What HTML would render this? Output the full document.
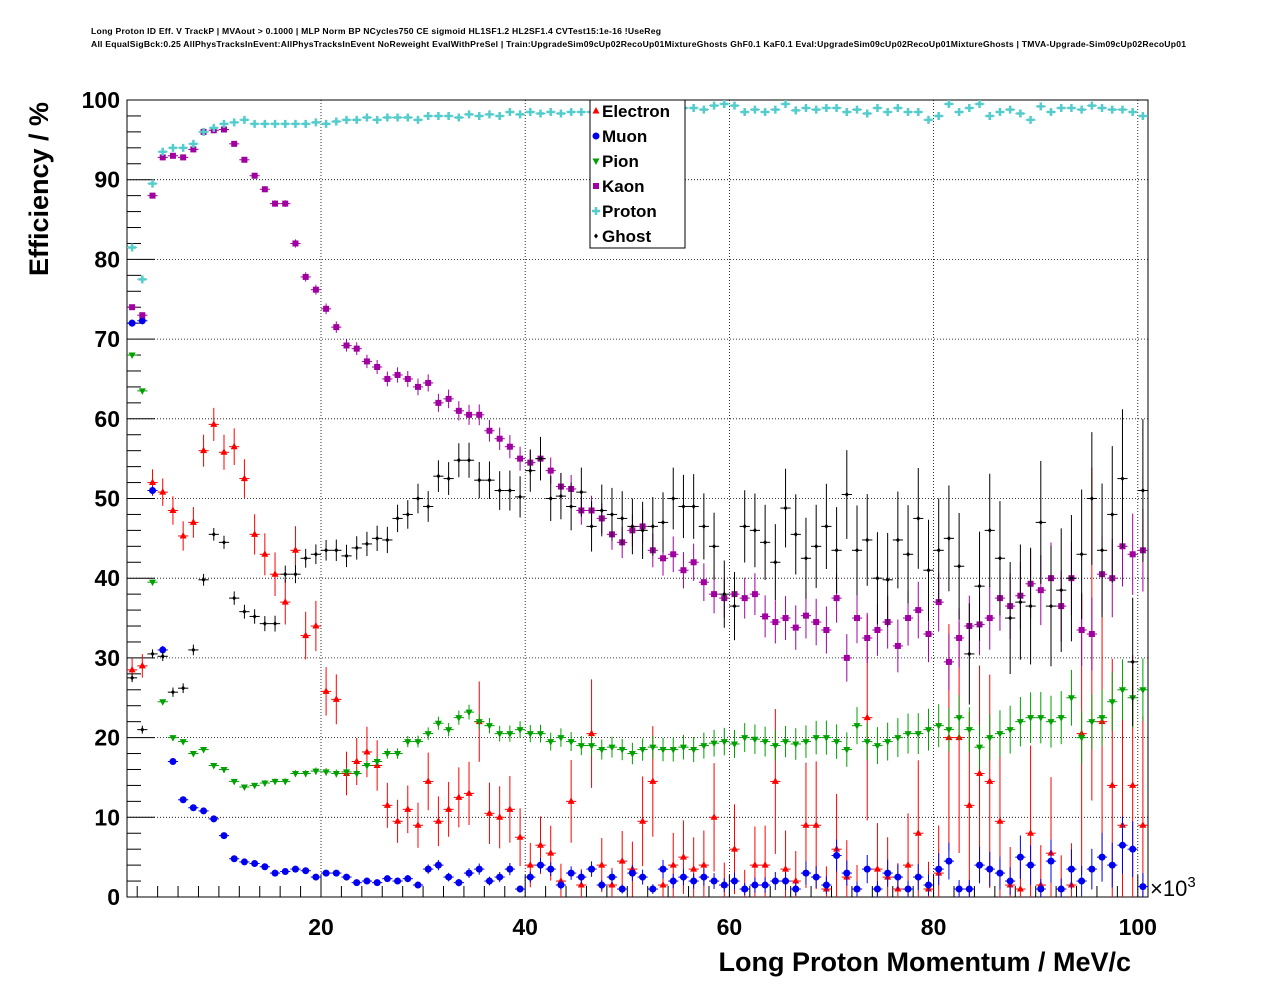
<!DOCTYPE html>
<html><head><meta charset="utf-8">
<style>
html,body{margin:0;padding:0;background:#fff;}
svg{display:block;font-family:"Liberation Sans",sans-serif;}
</style></head>
<body>
<svg id="c" width="1276" height="996" viewBox="0 0 1276 996">
<text x="91" y="34" font-size="8.6" font-weight="bold" textLength="570">Long Proton ID Eff. V TrackP | MVAout &gt; 0.1000 | MLP Norm BP NCycles750 CE sigmoid HL1SF1.2 HL2SF1.4 CVTest15:1e-16 !UseReg</text>
<text x="91" y="47" font-size="8.6" font-weight="bold" textLength="1095">All EqualSigBck:0.25 AllPhysTracksInEvent:AllPhysTracksInEvent NoReweight EvalWithPreSel | Train:UpgradeSim09cUp02RecoUp01MixtureGhosts GhF0.1 KaF0.1 Eval:UpgradeSim09cUp02RecoUp01MixtureGhosts | TMVA-Upgrade-Sim09cUp02RecoUp01</text>
<text transform="translate(48,189) rotate(-90)" text-anchor="middle" font-size="27" font-weight="bold">Efficiency / %</text>
<text x="1131" y="971" text-anchor="end" font-size="27" font-weight="bold">Long Proton Momentum / MeV/c</text>
<text x="1150" y="896" font-size="22">×10<tspan dy="-9" font-size="15">3</tspan></text>
<g id="grid"></g>
<g id="axes"></g>
<g id="marks"></g>
<g id="legend"></g>
</svg>
<script>
const xTicks=[20,40,60,80,100];
const yTicks=[0,10,20,30,40,50,60,70,80,90,100];
const seriesNames=["Electron","Muon","Pion","Kaon","Proton","Ghost"];
const seriesColors=["#ff0000","#0000ee","#00a000","#a000a0","#55cccc","#000000"];
const electron=[28.5,29,52,50.8,48.5,45.3,47,56,59.3,55.8,56.5,52.5,45.5,43,40.5,37,43.5,32.8,34,25.8,24.8,15.5,17,18.2,16.5,11.5,9.5,11,9,14.5,9.5,11,12.5,13,22,10.5,10,11,7.5,4,6.5,5.5,2,12,1.5,20.5,4,1.5,4.5,3.5,9.5,14.5,1.5,4,5,3.5,4,10,1.5,6,1,4,4,14.5,3.5,2,9,9,1,6,2.5,1,22.5,3.5,2.5,1,4,8,1,3,20,20,11.5,15.5,14.5,9.5,1.5,1,8,1.5,5.5,1,1.5,20.5,33,22,14,9,14,9];
const muon=[72,72.3,51,31,17,12.2,11.2,10.8,9.8,7.7,4.8,4.4,4.2,3.8,3,3.2,3.5,3.3,2.5,3,3,2.5,1.8,2,1.8,2.3,2,2.3,1.5,3.5,4,2.5,1.8,3,3.5,2,2.5,3.5,1,2.5,4,3.5,1.5,3,2.5,3.5,1.5,2.5,1,3,2.5,1,3.5,2,2.5,2,2.5,2,1.5,2,1,1.5,1.5,2,2,1,3,2.5,1.5,5.2,3,1,3.5,1,3,2.5,1,2.5,1.5,3.5,4.5,1,1,4,3.5,3,2,5,4,1,4.5,1,3.5,2,3.5,5,4,6.5,6,1.3];
const pion=[68,63.5,39.5,24.5,20,19.5,18,18.5,16.5,16,14.5,13.8,14,14.3,14.5,14.5,15.5,15.5,15.8,15.7,15.5,15.7,15.5,16.5,17,18,18,19.5,19.5,20.5,21.8,21,22.5,23.2,22,21.5,20.5,20.5,21,20.5,20.5,19.5,20,19.5,19,19,18.5,18.8,18.5,18,18.5,18.8,18.5,18.5,18.8,18.5,19,19.3,19.5,19.2,20,19.8,19.5,19,19.5,19.2,19.5,20,20,19.5,18.5,21.5,19.5,19,19.5,20,20.5,20.5,21,21.5,21,22.5,21,18.8,20,20.5,21,22,22.5,22.5,22,22.5,25,20,22,22.5,24.5,26,25,26];
const kaon=[74,73,88,92.8,93,92.8,93.8,96,96.2,96.3,94.5,92.5,90.5,88.8,87,87,82,77.8,76.2,73.8,71.5,69.2,68.8,67.2,66.5,65,65.5,65,64,64.5,62,62.5,61,60.5,60.5,58.5,57.5,56.5,55,54.5,55,53.5,51.5,51.2,48.5,48.5,47.5,45.5,44.5,46,46.5,43.5,42.5,43,41,42,39.5,38,37.5,38,37.5,38,35.2,34.5,35,33.8,35.3,34.5,33.5,37.5,30,35,32.5,33.5,34.5,31.5,35,36,33,37,29.5,32.5,34,34.2,35,37.5,36.5,37.8,39.3,38.5,40,36.5,40,33.5,33,40.5,40,44,43,43.5];
const proton=[81.5,77.5,89.5,93.5,94,94,94.5,96,96.5,97,97.2,97.5,97,97,97,97,97,97,97.2,97,97.3,97.5,97.5,97.8,97.5,97.8,97.8,97.8,97.5,98,98,98,97.8,98.2,98,98.2,98,98.5,98.2,98.5,98.3,98.5,98.3,98.5,98.5,98.5,98.8,98.5,98.7,98.5,98.8,98.7,98.9,99,99,99,98.8,99.3,99.5,99.3,98.5,98.8,98.5,98.8,99.5,98.7,99,98.8,99,99,98.5,98.8,98.3,99,98.5,99,98.5,98.5,97.5,98,99.5,98.5,99,99.5,98,98.5,98.8,98.3,97.5,99.2,98.5,99,99,98.8,99.3,99,98.8,98.8,98.5,98];
const ghost=[27.5,21,30.5,30.2,25.7,26.2,31,39.8,45.5,44.5,37.5,35.8,35.2,34.3,34.3,40.5,40.5,42.5,43,43.5,43.5,42.8,43.8,44.3,45,44.8,47.5,48,50,49,52.8,52.5,54.8,54.8,52.3,52.3,51,51,50.2,53.5,55,50,50.3,49,50.8,46.5,48.5,48,47.5,46.5,46,46.5,47,50,49,49,46.5,44,38,36.5,46.5,46,44.5,42,48.8,45.5,42.5,44,46.5,43.5,50.5,43.5,44.8,40,39.8,44.8,43,47.5,41,43.5,45,41.5,30.5,39,46,42.5,35,37,36.5,47,36.5,38.5,40,43,50,43.5,48,52.5,29.5,51,43,38.5];
const seriesData=[electron,muon,pion,kaon,proton,ghost];
const errScale=[1.6,0.5,0.3,0.35,0.12,0.6];

const X0=127,X1=1148,Y0=897,Y1=100,XMIN=1,XMAX=101;
const sx=v=>X0+(v-XMIN)/(XMAX-XMIN)*(X1-X0);
const sy=v=>Y0-v/100*(Y0-Y1);
const NS="http://www.w3.org/2000/svg";
function mk(tag,attrs,parent){const e=document.createElementNS(NS,tag);for(const k in attrs)e.setAttribute(k,attrs[k]);parent.appendChild(e);return e;}
const grid=document.getElementById('grid'),axes=document.getElementById('axes'),marks=document.getElementById('marks'),legend=document.getElementById('legend');

xTicks.forEach(t=>{const l=mk('line',{x1:sx(t),x2:sx(t),y1:Y1,y2:Y0,stroke:'#000','stroke-width':0.8,'stroke-dasharray':'1,2'},grid);

});
yTicks.forEach(t=>{if(t===0||t===100)return;const l=mk('line',{x1:X0,x2:X1,y1:sy(t),y2:sy(t),stroke:'#000','stroke-width':0.8,'stroke-dasharray':'1,2'},grid);

});

const frame=mk('rect',{x:X0,y:Y1,width:X1-X0,height:Y0-Y1,fill:'none',stroke:'#000','stroke-width':1},axes);


for(let v=2;v<=100;v+=2){mk('line',{x1:sx(v),x2:sx(v),y1:Y0,y2:Y0-(v%20===0?22:11),stroke:'#000'},axes);}
for(let v=0;v<=100;v+=2){mk('line',{x1:X0,x2:X0+(v%10===0?28:14),y1:sy(v),y2:sy(v),stroke:'#000'},axes);}
xTicks.forEach(t=>{const tx=mk('text',{x:sx(t),y:935,'text-anchor':'middle','font-size':23,'font-weight':'bold'},axes);tx.textContent=t;

});
yTicks.forEach(t=>{const tx=mk('text',{x:120,y:sy(t)+8,'text-anchor':'end','font-size':23,'font-weight':'bold'},axes);tx.textContent=t;

});

function marker(s,cx,cy,parent){const c=seriesColors[s];let e;
 if(s===0)e=mk('polygon',{points:`${cx},${cy-4} ${cx-3.5},${cy+2.5} ${cx+3.5},${cy+2.5}`,fill:c},parent);
 else if(s===1)e=mk('circle',{cx:cx,cy:cy,r:3.5,fill:c},parent);
 else if(s===2)e=mk('polygon',{points:`${cx},${cy+4} ${cx-3.5},${cy-2.5} ${cx+3.5},${cy-2.5}`,fill:c},parent);
 else if(s===3)e=mk('rect',{x:cx-3,y:cy-3,width:6,height:6,fill:c},parent);
 else if(s===4)e=mk('path',{d:`M${cx-4},${cy}H${cx+4}M${cx},${cy-4}V${cy+4}`,stroke:c,'stroke-width':2.5},parent);
 else e=mk('polygon',{points:`${cx},${cy-2.5} ${cx-2},${cy} ${cx},${cy+2.5} ${cx+2},${cy}`,fill:c},parent);
 return e;}

seriesData.forEach((arr,s)=>{const g=mk('g',{},marks);
 
 
 const c=seriesColors[s];
 arr.forEach((v,i)=>{const xc=XMIN+0.5+i;if(xc>XMAX)return;const cx=sx(xc),cy=sy(v);
  const err=errScale[s]*Math.sqrt(Math.max(v*(100-v),20))/10*(0.2+Math.pow(i/50,1.5));
  mk('line',{x1:sx(xc-0.5),x2:sx(xc+0.5),y1:cy,y2:cy,stroke:c,'stroke-width':1},g);
  mk('line',{x1:cx,x2:cx,y1:sy(Math.min(100,v+err)),y2:sy(Math.max(0,v-err)),stroke:c,'stroke-width':1},g);
  const m=marker(s,cx,cy,g);
  
  
 });});

const lb=mk('rect',{x:590,y:100,width:95,height:148,fill:'#fff',stroke:'#000'},legend);


seriesNames.forEach((n,s)=>{const y=111+s*25;const g=mk('g',{},legend);
 
 
 marker(s,596,y,g);
 const t=mk('text',{x:602,y:y+6,'font-size':17,'font-weight':'bold'},g);t.textContent=n;});
</script>
</body></html>
